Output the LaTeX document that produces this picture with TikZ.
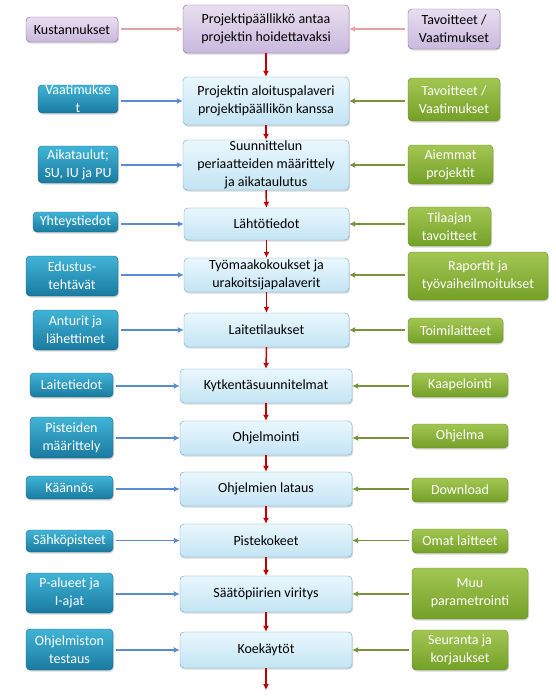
\documentclass[tikz,border=0pt]{standalone}
\usepackage{fontspec}
\setmainfont{Carlito}
\usetikzlibrary{arrows.meta,shadows}
\definecolor{Lilac}{HTML}{8064A2}
\definecolor{LilacTop}{HTML}{E8DFF0}
\definecolor{LilacBot}{HTML}{C9B8DD}
\definecolor{SkyLine}{HTML}{6FA8CA}
\definecolor{SkyTop}{HTML}{EAF7FD}
\definecolor{SkyBot}{HTML}{C3E4F4}
\definecolor{TealTop}{HTML}{40B4D6}
\definecolor{TealBot}{HTML}{1A7AA0}
\definecolor{LeafTop}{HTML}{A3C653}
\definecolor{LeafBot}{HTML}{74A027}
\definecolor{FlowRed}{HTML}{C00000}
\definecolor{FlowPink}{HTML}{E4A2A2}
\definecolor{FlowBlue}{HTML}{5B8BD0}
\definecolor{FlowGreen}{HTML}{77933C}

\tikzset{
  box/.style={rounded corners=4pt,align=center,inner sep=0pt,
    font=\fontsize{14}{18}\selectfont,
    drop shadow={shadow xshift=1pt,shadow yshift=-1.5pt,opacity=0.3}},
  lilac/.style={box,draw=Lilac,top color=LilacTop,bottom color=LilacBot},
  sky/.style={box,draw=SkyLine,top color=SkyTop,bottom color=SkyBot},
  teal/.style={box,draw=TealBot!80!black,top color=TealTop,bottom color=TealBot,text=white},
  leaf/.style={box,draw=LeafBot!85!black,top color=LeafTop,bottom color=LeafBot,text=white},
  down/.style={FlowRed,line width=1.5pt,-{Latex[length=6pt,width=6pt]}},
  feed/.style={line width=1.5pt,shorten <=3pt,-{Latex[length=6pt,width=6pt]}},
}

\begin{document}
\begin{tikzpicture}[x=1pt,y=-1pt]
  \useasboundingbox (0,0) rectangle (556,696);

  % centre column
  \node[lilac,minimum width=166,minimum height=48] (c1) at (266,29)
    {Projektipäällikkö antaa\\projektin hoidettavaksi};
  \node[sky,minimum width=166,minimum height=48] (c2) at (266,101)
    {Projektin aloituspalaveri\\projektipäällikön kanssa};
  \node[sky,minimum width=166,minimum height=50] (c3) at (266,165)
    {Suunnittelun\\periaatteiden määrittely\\ja aikataulutus};
  \node[sky,minimum width=165,minimum height=32] (c4) at (266.5,224) {Lähtötiedot};
  \node[sky,minimum width=165,minimum height=34] (c5) at (266.5,275)
    {Työmaakokoukset ja\\urakoitsijapalaverit};
  \node[sky,minimum width=165,minimum height=34] (c6) at (266.5,330) {Laitetilaukset};
  \node[sky,minimum width=172,minimum height=34] (c7) at (266,386) {Kytkentäsuunnitelmat};
  \node[sky,minimum width=172,minimum height=34] (c8) at (266,438) {Ohjelmointi};
  \node[sky,minimum width=172,minimum height=34] (c9) at (266,489) {Ohjelmien lataus};
  \node[sky,minimum width=172,minimum height=33] (c10) at (266,540.5) {Pistekokeet};
  \node[sky,minimum width=172,minimum height=36] (c11) at (266,594) {Säätöpiirien viritys};
  \node[sky,minimum width=172,minimum height=36] (c12) at (266,650) {Koekäytöt};
  \coordinate (end) at (266,690);

  % left inputs
  \node[lilac,minimum width=92,minimum height=25] (l1) at (72,29.5) {Kustannukset};
  \node[teal,minimum width=80,minimum height=28] (l2) at (78,99)
    {Vaatimukse\\t};
  \node[teal,minimum width=80,minimum height=37] (l3) at (78,164.5)
    {Aikataulut;\\SU, IU ja PU};
  \node[teal,minimum width=85,minimum height=20] (l4) at (75.5,222) {Yhteystiedot};
  \node[teal,minimum width=92,minimum height=40] (l5) at (72,276)
    {Edustus-\\tehtävät};
  \node[teal,minimum width=85,minimum height=40] (l6) at (75.5,330)
    {Anturit ja\\lähettimet};
  \node[teal,minimum width=83,minimum height=24] (l7) at (71.5,385) {Laitetiedot};
  \node[teal,minimum width=83,minimum height=41] (l8) at (71.5,437.5)
    {Pisteiden\\määrittely};
  \node[teal,minimum width=87,minimum height=23] (l9) at (69.5,487.5) {Käännös};
  \node[teal,minimum width=87,minimum height=22] (l10) at (69.5,541) {Sähköpisteet};
  \node[teal,minimum width=87,minimum height=40] (l11) at (69.5,593)
    {P-alueet ja\\I-ajat};
  \node[teal,minimum width=87,minimum height=41] (l12) at (69.5,649.5)
    {Ohjelmiston\\testaus};

  % right inputs
  \node[lilac,minimum width=92,minimum height=40] (r1) at (454,29)
    {Tavoitteet /\\Vaatimukset};
  \node[leaf,minimum width=92,minimum height=43] (r2) at (454,99.5)
    {Tavoitteet /\\Vaatimukset};
  \node[leaf,minimum width=85,minimum height=39] (r3) at (450.5,164.5)
    {Aiemmat\\projektit};
  \node[leaf,minimum width=83,minimum height=39] (r4) at (449.5,226.5)
    {Tilaajan\\tavoitteet};
  \node[leaf,minimum width=140,minimum height=48] (r5) at (478,276)
    {Raportit ja\\työvaiheilmoitukset};
  \node[leaf,minimum width=95,minimum height=25] (r6) at (455.5,330.5) {Toimilaitteet};
  \node[leaf,minimum width=96,minimum height=24] (r7) at (460,385) {Kaapelointi};
  \node[leaf,minimum width=96,minimum height=24] (r8) at (460,436) {Ohjelma};
  \node[leaf,minimum width=96,minimum height=24] (r9) at (460,490) {Download};
  \node[leaf,minimum width=96,minimum height=24] (r10) at (460,541) {Omat laitteet};
  \node[leaf,minimum width=116,minimum height=51] (r11) at (470,593.5)
    {Muu\\parametrointi};
  \node[leaf,minimum width=96,minimum height=40] (r12) at (460,650)
    {Seuranta ja\\korjaukset};

  % main flow
  \foreach \a/\b in {c1/c2,c2/c3,c3/c4,c4/c5,c5/c6,c6/c7,c7/c8,c8/c9,c9/c10,c10/c11,c11/c12}
    \draw[down] (\a.south) -- (\b.north);
  \draw[down] (c12.south) -- (end);

  % side inputs
  \draw[feed,FlowPink] (l1.east |- c1.west) -- (c1.west);
  \draw[feed,FlowPink] (r1.west |- c1.east) -- (c1.east);
  \foreach \i in {2,...,12} {
    \draw[feed,FlowBlue] (l\i.east |- c\i.west) -- (c\i.west);
    \draw[feed,FlowGreen] (r\i.west |- c\i.east) -- (c\i.east);
  }
\end{tikzpicture}
\end{document}
